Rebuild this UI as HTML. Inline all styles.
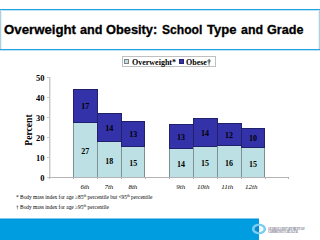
<!DOCTYPE html>
<html><head><meta charset="utf-8">
<style>
*{margin:0;padding:0;box-sizing:border-box}
html,body{width:320px;height:240px;overflow:hidden;background:#fff;position:relative}
body{font-family:"Liberation Serif",serif;color:#000}
.abs{position:absolute}
.tw{position:absolute;transform-origin:0 0;top:22px;font-family:"Liberation Sans",sans-serif;font-weight:bold;font-size:13px;white-space:nowrap;line-height:16px;-webkit-text-stroke:0.3px #000}
#legend{position:absolute;left:122px;top:56px;width:94px;height:11px;border:1px solid #c0c0c0}
.sw{position:absolute;width:5px;height:5px;border:1px solid #808080}
.lt{position:absolute;font-weight:bold;font-size:8px;line-height:10px;white-space:nowrap}
.yl{position:absolute;font-weight:bold;font-size:8.5px;line-height:8px;width:20.5px;text-align:right;left:24px}
.bar{position:absolute;border:1px solid rgba(0,0,0,0.35);width:25px}
.dk{background:#3432a8}
.lb{background:#bce0e4}
.v{position:absolute;font-weight:bold;font-size:8px;line-height:10px;width:24px;text-align:center}
.xl{position:absolute;font-style:italic;font-size:7px;line-height:8px;width:24px;text-align:center;top:183px}
.tk{position:absolute;background:#b0b0b0}
.fn{position:absolute;font-size:6px;line-height:7px;white-space:nowrap;left:16px;transform:scaleX(0.9);transform-origin:0 0}
.fn sup{font-size:4px;vertical-align:top;line-height:4px}
</style></head><body>

<div class="abs" style="left:0;top:9px;width:320px;height:1px;background:#26a2e2"></div>
<div class="abs" style="left:0;top:10px;width:320px;height:1px;background:#bce2f6"></div>
<div class="abs" style="left:0;top:49px;width:320px;height:1px;background:#26a2e2"></div>
<div class="abs" style="left:0;top:50px;width:320px;height:1px;background:#bce2f6"></div>
<div class="abs" style="left:0;top:10px;width:1px;height:39px;background:#b0cedc"></div>
<div class="abs" style="left:1px;top:10px;width:1px;height:39px;background:#e4f4f8"></div>
<div class="abs" style="left:319px;top:10px;width:1px;height:39px;background:#b0cedc"></div>
<div class="abs" style="left:318px;top:10px;width:1px;height:39px;background:#e4f4f8"></div>
<div class="tw" style="left:3.60px;transform:scaleX(1.0174)">Overweight</div>
<div class="tw" style="left:79.78px;transform:scaleX(0.9720)">and</div>
<div class="tw" style="left:106.29px;transform:scaleX(0.9850)">Obesity:</div>
<div class="tw" style="left:162.03px;transform:scaleX(0.9306)">School</div>
<div class="tw" style="left:206.60px;transform:scaleX(1.0020)">Type</div>
<div class="tw" style="left:240.79px;transform:scaleX(0.9511)">and</div>
<div class="tw" style="left:267.40px;transform:scaleX(0.9697)">Grade</div>
<div id="legend"></div>
<div class="sw" style="left:124px;top:59px;background:#bce0e4"></div>
<div class="lt" id="l1" style="left:132px;top:58px">Overweight*</div>
<div class="sw" style="left:179px;top:59px;background:#3432a8;border-color:#23237a"></div>
<div class="lt" id="l2" style="left:186px;top:58px">Obese†</div>
<div class="abs" id="pct" style="left:28.8px;top:129.5px;transform:translate(-50%,-50%) rotate(-90deg);font-weight:bold;font-size:9.6px;line-height:10px;white-space:nowrap">Percent</div>
<div class="abs" style="left:49px;top:77px;width:1px;height:101px;background:#c8c8c8"></div>
<div class="abs" style="left:50px;top:77px;width:1px;height:101px;background:#e6e6e6"></div>
<div class="abs" style="left:47px;top:77px;width:2px;height:1px;background:#c8c8c8"></div>
<div class="yl" style="top:74px">50</div>
<div class="abs" style="left:47px;top:97px;width:2px;height:1px;background:#c8c8c8"></div>
<div class="yl" style="top:94px">40</div>
<div class="abs" style="left:47px;top:117px;width:2px;height:1px;background:#c8c8c8"></div>
<div class="yl" style="top:114px">30</div>
<div class="abs" style="left:47px;top:137px;width:2px;height:1px;background:#c8c8c8"></div>
<div class="yl" style="top:134px">20</div>
<div class="abs" style="left:47px;top:157px;width:2px;height:1px;background:#c8c8c8"></div>
<div class="yl" style="top:154px">10</div>
<div class="abs" style="left:47px;top:177px;width:2px;height:1px;background:#c8c8c8"></div>
<div class="yl" style="top:174px">0</div>
<div class="tk" style="left:49px;top:177px;width:1px;height:2px"></div>
<div class="tk" style="left:73px;top:177px;width:1px;height:2px"></div>
<div class="tk" style="left:97px;top:177px;width:1px;height:2px"></div>
<div class="tk" style="left:121px;top:177px;width:1px;height:2px"></div>
<div class="tk" style="left:145px;top:177px;width:1px;height:2px"></div>
<div class="tk" style="left:169px;top:177px;width:1px;height:2px"></div>
<div class="tk" style="left:193px;top:177px;width:1px;height:2px"></div>
<div class="tk" style="left:217px;top:177px;width:1px;height:2px"></div>
<div class="tk" style="left:241px;top:177px;width:1px;height:2px"></div>
<div class="tk" style="left:265px;top:177px;width:1px;height:2px"></div>
<div class="tk" style="left:288px;top:177px;width:1px;height:2px"></div>
<div class="bar lb" style="left:73px;top:122px;height:56px;width:25px"></div>
<div class="bar dk" style="left:73px;top:89px;height:34px;width:25px"></div>
<div class="v" style="left:73.2px;top:102.0px">17</div>
<div class="v" style="left:73.2px;top:147.0px">27</div>
<div class="xl" style="left:72.9px">6th</div>
<div class="bar lb" style="left:97px;top:141px;height:37px;width:25px"></div>
<div class="bar dk" style="left:97px;top:113px;height:29px;width:25px"></div>
<div class="v" style="left:97.2px;top:123.5px">14</div>
<div class="v" style="left:97.2px;top:156.5px">18</div>
<div class="xl" style="left:96.9px">7th</div>
<div class="bar lb" style="left:121px;top:146px;height:32px;width:24px"></div>
<div class="bar dk" style="left:121px;top:121px;height:26px;width:24px"></div>
<div class="v" style="left:121.2px;top:130.0px">13</div>
<div class="v" style="left:121.2px;top:159.0px">15</div>
<div class="xl" style="left:120.9px">8th</div>
<div class="bar lb" style="left:169px;top:148px;height:30px;width:25px"></div>
<div class="bar dk" style="left:169px;top:124px;height:25px;width:25px"></div>
<div class="v" style="left:169.1px;top:132.5px">13</div>
<div class="v" style="left:169.1px;top:160.0px">14</div>
<div class="xl" style="left:168.8px">9th</div>
<div class="bar lb" style="left:193px;top:146px;height:32px;width:25px"></div>
<div class="bar dk" style="left:193px;top:118px;height:29px;width:25px"></div>
<div class="v" style="left:193.0px;top:128.5px">14</div>
<div class="v" style="left:193.0px;top:159.0px">15</div>
<div class="xl" style="left:191.2px">10th</div>
<div class="bar lb" style="left:217px;top:145px;height:33px;width:25px"></div>
<div class="bar dk" style="left:217px;top:123px;height:23px;width:25px"></div>
<div class="v" style="left:217.0px;top:130.5px">12</div>
<div class="v" style="left:217.0px;top:158.5px">16</div>
<div class="xl" style="left:215.2px">11th</div>
<div class="bar lb" style="left:241px;top:147px;height:31px;width:24px"></div>
<div class="bar dk" style="left:241px;top:128px;height:20px;width:24px"></div>
<div class="v" style="left:241.0px;top:134.0px">10</div>
<div class="v" style="left:241.0px;top:159.5px">15</div>
<div class="xl" style="left:239.2px">12th</div>
<div class="abs" style="left:49px;top:177px;width:240px;height:1px;background:#b4b4b4"></div>
<div class="fn" style="top:194px">* Body mass index for age ≥85<sup>th</sup> percentile but &lt;95<sup>th</sup> percentile</div>
<div class="fn" style="top:204px">† Body mass index for age ≥95<sup>th</sup> percentile</div>
<div class="abs" style="left:0;top:219px;width:259px;height:21px;background:#009ee0"></div>
<div class="abs" style="left:0;top:218px;width:259px;height:1px;background:#7cc8ee"></div>
<div class="abs" style="left:0;top:219px;width:259px;height:1px;background:#0096d8"></div>
<svg class="abs" style="left:248px;top:219px" width="22" height="20" viewBox="0 0 22 20"><ellipse cx="11" cy="10" rx="5.8" ry="4" fill="none" stroke="#7ccdf0" stroke-width="2.6"/><path d="M11 6.6 Q8.2 7.2 6.8 10 Q8.2 12.8 11 13.4Z" fill="#0a88cc"/><path d="M11 6.6 Q13.8 7.2 15.2 10 Q13.8 12.8 11 13.4Z" fill="#ffffff"/><path d="M11 7.4 L13.8 10 L11 12.6Z" fill="#d6effa"/></svg>
<div class="abs" style="left:268px;top:226.5px;font-size:6px;line-height:6px;color:#707088;white-space:nowrap;font-weight:bold;transform:scale(0.45,0.5);transform-origin:0 0" id="g1">GEORGIA DEPARTMENT OF</div>
<div class="abs" style="left:268px;top:229.5px;font-size:6px;line-height:6px;color:#707088;white-space:nowrap;font-weight:bold;transform:scale(0.45,0.5);transform-origin:0 0" id="g2">COMMUNITY HEALTH</div>
</body></html>
